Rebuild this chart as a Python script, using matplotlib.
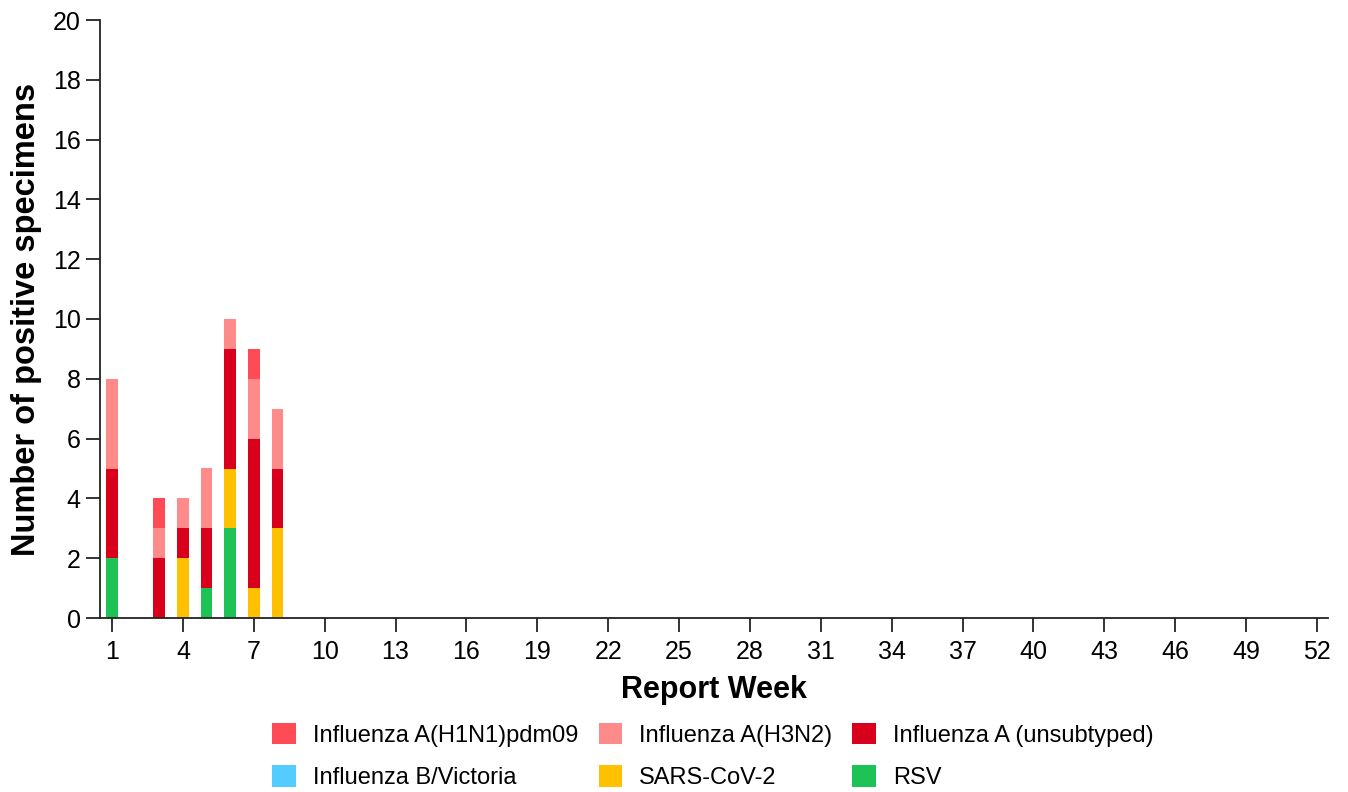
import matplotlib
matplotlib.use("Agg")
import matplotlib.pyplot as plt
import numpy as np

weeks = list(range(1, 53))
series_names = ["Influenza A(H1N1)pdm09", "Influenza A(H3N2)", "Influenza A (unsubtyped)",
                "Influenza B/Victoria", "SARS-CoV-2", "RSV"]
colors = ["#FF4B55", "#FF8A8A", "#D9001B", "#55CCFF", "#FFC000", "#1DC355"]

# values for weeks 1..8; remaining weeks are zero
h1n1_first = [0, 0, 1, 0, 0, 0, 1, 0]
h3n2_first = [3, 0, 1, 1, 2, 1, 2, 2]
unsub_first = [3, 0, 2, 1, 2, 4, 5, 2]
bvic_first = [0, 0, 0, 0, 0, 0, 0, 0]
sars_first = [0, 0, 0, 2, 0, 2, 1, 3]
rsv_first = [2, 0, 0, 0, 1, 3, 0, 0]

def pad(v):
    return v + [0] * (52 - len(v))

h1n1 = pad(h1n1_first)
h3n2 = pad(h3n2_first)
unsub = pad(unsub_first)
bvic = pad(bvic_first)
sars = pad(sars_first)
rsv = pad(rsv_first)

plt.rcParams['font.family'] = ['Liberation Sans', 'DejaVu Sans']

fig = plt.figure(figsize=(13.48, 7.92), dpi=100)
ax = fig.add_axes([100/1348, 1 - 618/792, (1328 - 100)/1348, (618 - 20)/792])

# stack order bottom to top
stack = [(rsv, 5), (sars, 4), (bvic, 3), (unsub, 2), (h3n2, 1), (h1n1, 0)]
bottom = np.zeros(52)
handles = {}
for vals, idx in stack:
    v = np.array(vals, dtype=float)
    b = ax.bar(weeks, v, bottom=bottom, width=0.5, color=colors[idx], edgecolor='none',
               label=series_names[idx])
    handles[idx] = b
    bottom += v

ax.set_xlim(0.49, 52.47)
ax.set_ylim(0, 20)
ax.set_yticks(range(0, 21, 2))
ax.set_xticks(range(1, 53, 3))
ax.tick_params(axis='both', labelsize=18, direction='out', length=10, width=1.3,
               colors='#222222', labelcolor='black')
ax.tick_params(axis='x', pad=6)
ax.tick_params(axis='y', pad=4)
for s in ['top', 'right']:
    ax.spines[s].set_visible(False)
for s in ['left', 'bottom']:
    ax.spines[s].set_linewidth(1.3)
    ax.spines[s].set_color('#222222')

ax.set_xlabel("Report Week", fontsize=22, fontweight='bold', labelpad=8)
ax.set_ylabel("Number of positive specimens", fontsize=23.5, fontweight='bold', labelpad=8)

# matplotlib fills legend columns first; order gives row-wise layout
order = [0, 3, 1, 4, 2, 5]
leg = fig.legend([handles[i] for i in order], [series_names[i] for i in order],
                 loc='center', bbox_to_anchor=(713/1348, 1 - 756/792), ncol=3, frameon=False,
                 fontsize=17, handlelength=1.0, handleheight=1.0, columnspacing=0.85,
                 labelspacing=0.8, handletextpad=0.72, borderaxespad=0, borderpad=0)

fig.savefig("out.png", dpi=100)
